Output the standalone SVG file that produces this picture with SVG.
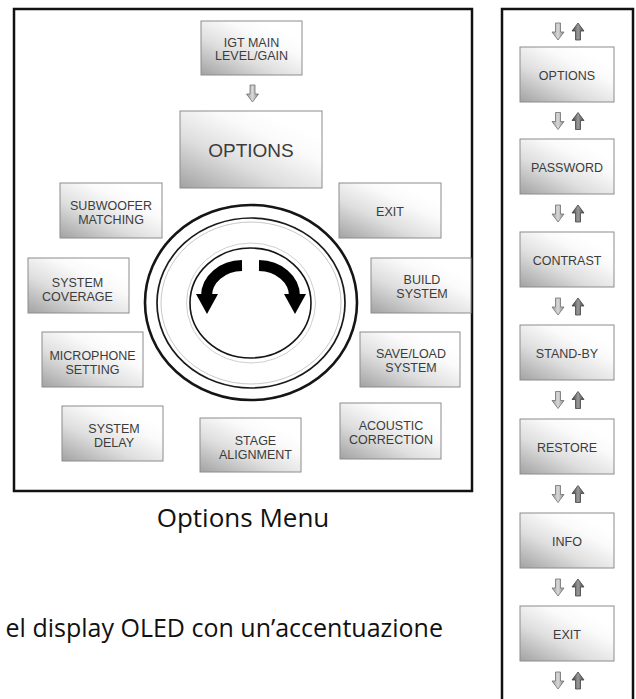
<svg xmlns="http://www.w3.org/2000/svg" width="636" height="699" viewBox="0 0 636 699">
<style>
.frame{fill:none;stroke:#111;stroke-width:2.5}
.box{fill:url(#boxg);stroke:#8c8c8c;stroke-width:1}
.t{font-family:"Liberation Sans",Arial,sans-serif;font-size:12.5px;fill:#3c3c3c;text-anchor:middle}
.tr{font-family:"Liberation Sans",Arial,sans-serif;font-size:12.5px;fill:#3c3c3c;text-anchor:middle}
.big{font-family:"Liberation Sans",Arial,sans-serif;font-size:19px;fill:#3c3c3c;text-anchor:middle}
.cap{font-family:"Open Sans","Noto Sans",sans-serif;fill:#111}
.ring{fill:none}
.dn{fill:url(#dng);stroke:#707070;stroke-width:0.8}
.up{fill:url(#upg);stroke:#444;stroke-width:0.8}
</style>
<defs>
<linearGradient id="boxg" x1="0" y1="1" x2="0.75" y2="0.15">
<stop offset="0" stop-color="#a2a2a2"/>
<stop offset="0.45" stop-color="#dedede"/>
<stop offset="0.8" stop-color="#fafafa"/>
<stop offset="1" stop-color="#ffffff"/>
</linearGradient>
<linearGradient id="dng" x1="0" y1="0" x2="1" y2="0">
<stop offset="0" stop-color="#9a9a9a"/>
<stop offset="0.5" stop-color="#d8d8d8"/>
<stop offset="1" stop-color="#8a8a8a"/>
</linearGradient>
<linearGradient id="upg" x1="0" y1="0" x2="1" y2="0">
<stop offset="0" stop-color="#3a3a3a"/>
<stop offset="0.5" stop-color="#9a9a9a"/>
<stop offset="1" stop-color="#4a4a4a"/>
</linearGradient>
<path id="darr" class="dn" d="M-2.5,0 H2.5 V9 H6 L0,17 L-6,9 H-2.5 Z"/>
<path id="uarr" class="up" d="M0,0 L6,8 H2.5 V17 H-2.5 V8 H-6 Z"/>
</defs>

<rect class="frame" x="14" y="9" width="458" height="482"/>
<rect class="frame" x="502" y="9" width="131" height="710"/>

<g id="connectors">
<use href="#darr" x="252.5" y="85"/>
<use href="#darr" x="558" y="23"/><use href="#uarr" x="578" y="23"/>
<use href="#darr" x="558" y="112.5"/><use href="#uarr" x="578" y="112.5"/>
<use href="#darr" x="558" y="205"/><use href="#uarr" x="578" y="205"/>
<use href="#darr" x="558" y="298"/><use href="#uarr" x="578" y="298"/>
<use href="#darr" x="558" y="391.5"/><use href="#uarr" x="578" y="391.5"/>
<use href="#darr" x="558" y="485.5"/><use href="#uarr" x="578" y="485.5"/>
<use href="#darr" x="558" y="579"/><use href="#uarr" x="578" y="579"/>
<use href="#darr" x="558" y="672"/><use href="#uarr" x="578" y="672"/>
</g>

<g id="dial">
<ellipse class="ring" cx="251" cy="302.5" rx="106" ry="97.5" stroke="#151515" stroke-width="2.6"/>
<ellipse class="ring" cx="251" cy="303" rx="94" ry="85" stroke="#1a1a1a" stroke-width="1.7"/>
<ellipse class="ring" cx="251" cy="303" rx="90" ry="81" stroke="#c8c8c8" stroke-width="1"/>
<ellipse class="ring" cx="251" cy="303" rx="64.5" ry="60" stroke="#cfcfcf" stroke-width="1"/>
<ellipse class="ring" cx="250.5" cy="303" rx="60.5" ry="55" stroke="#151515" stroke-width="1.6"/>
<path d="M242,265.5 A36,30.5 0 0 0 206.5,296" fill="none" stroke="#000" stroke-width="11"/>
<polygon points="196,294 218,294 207,314" fill="#000"/>
<path d="M259,265.5 A36,30.5 0 0 1 294.5,296" fill="none" stroke="#000" stroke-width="11"/>
<polygon points="284,294 306,294 295,314" fill="#000"/>
</g>

<g id="igt"><rect class="box" x="201" y="21" width="101" height="54"/><text class="t" x="251.5" y="46.5">IGT MAIN</text><text class="t" x="251.5" y="60">LEVEL/GAIN</text></g>
<g id="options-main"><rect class="box" x="180" y="111" width="142" height="77"/><text class="big" x="251" y="156.5">OPTIONS</text></g>
<g id="subwoofer"><rect class="box" x="60" y="183" width="102" height="55"/><text class="t" x="111" y="210">SUBWOOFER</text><text class="t" x="111" y="224">MATCHING</text></g>
<g id="exit-main"><rect class="box" x="339" y="183" width="102" height="55"/><text class="t" x="390" y="216">EXIT</text></g>
<g id="coverage"><rect class="box" x="28" y="258" width="101" height="55"/><text class="t" x="77.5" y="286.5">SYSTEM</text><text class="t" x="77.5" y="300.5">COVERAGE</text></g>
<g id="build"><rect class="box" x="371" y="258" width="100" height="55"/><text class="t" x="422" y="284">BUILD</text><text class="t" x="422" y="298">SYSTEM</text></g>
<g id="microphone"><rect class="box" x="42" y="332" width="101" height="55"/><text class="t" x="92.5" y="359.5">MICROPHONE</text><text class="t" x="92.5" y="373.5">SETTING</text></g>
<g id="saveload"><rect class="box" x="360" y="332" width="100" height="55"/><text class="t" x="411" y="358">SAVE/LOAD</text><text class="t" x="411" y="372">SYSTEM</text></g>
<g id="delay"><rect class="box" x="62" y="406" width="101" height="55"/><text class="t" x="114" y="433">SYSTEM</text><text class="t" x="114" y="447">DELAY</text></g>
<g id="stage"><rect class="box" x="200" y="418" width="101" height="54"/><text class="t" x="255.5" y="445">STAGE</text><text class="t" x="255.5" y="459">ALIGNMENT</text></g>
<g id="acoustic"><rect class="box" x="340" y="403" width="101" height="56"/><text class="t" x="391" y="429.5">ACOUSTIC</text><text class="t" x="391" y="443.5">CORRECTION</text></g>

<g id="r-options"><rect class="box" x="520" y="47" width="94" height="55"/><text class="tr" x="567" y="79.5">OPTIONS</text></g>
<g id="r-password"><rect class="box" x="520" y="139" width="94" height="55"/><text class="tr" x="567" y="171.5">PASSWORD</text></g>
<g id="r-contrast"><rect class="box" x="520" y="232" width="94" height="55"/><text class="tr" x="567" y="264.5">CONTRAST</text></g>
<g id="r-standby"><rect class="box" x="520" y="325" width="94" height="55"/><text class="tr" x="567" y="357.5">STAND-BY</text></g>
<g id="r-restore"><rect class="box" x="520" y="419" width="94" height="55"/><text class="tr" x="567" y="451.5">RESTORE</text></g>
<g id="r-info"><rect class="box" x="520" y="513" width="94" height="55"/><text class="tr" x="567" y="545.5">INFO</text></g>
<g id="r-exit"><rect class="box" x="520" y="606" width="94" height="55"/><text class="tr" x="567" y="638.5">EXIT</text></g>

<text class="cap" x="243" y="527" font-size="26" text-anchor="middle">Options Menu</text>
<text class="cap" x="443" y="637" font-size="25" text-anchor="end">el display OLED con un’accentuazione</text>
</svg>
